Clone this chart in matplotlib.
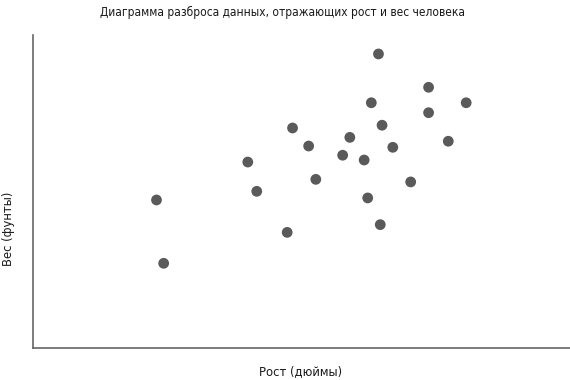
import matplotlib
matplotlib.use("Agg")
import matplotlib.pyplot as plt

heights = [56.9, 57.3, 62.0, 62.5, 64.2, 64.5, 65.4, 65.8, 67.3, 67.7, 68.5,
           68.7, 68.9, 69.3, 69.5, 69.4, 70.1, 71.1, 72.1, 72.1, 73.2, 74.2]
weights = [160.4, 126.0, 181.0, 165.1, 142.8, 199.5, 189.7, 171.6, 184.7, 194.4, 182.1,
           161.5, 213.2, 239.7, 201.0, 147.0, 189.0, 170.2, 221.6, 207.8, 192.3, 213.2]

title = "Диаграмма разброса данных, отражающих рост и вес человека"
xlabel = "Рост (дюймы)"
ylabel = "Вес (фунты)"

font = dict(family="DejaVu Sans", stretch="condensed", color="#1a1a1a")

fig = plt.figure(figsize=(5.7, 3.8), dpi=100)
ax = fig.add_axes([33/570, 32/380, 1 - 33/570, (348-35)/380])
ax.scatter(heights, weights, s=60, color="#5a5a5a", edgecolors="none")
ax.set_xlim(50, 80)
ax.set_ylim(80, 250)
ax.set_xticks([])
ax.set_yticks([])
for s in ["top", "right"]:
    ax.spines[s].set_visible(False)
for s in ["left", "bottom"]:
    ax.spines[s].set_color("#666666")
    ax.spines[s].set_linewidth(1.2)

fig.text(282/570, 1 - 12/380, title, ha="center", va="center", fontsize=8.6, **font)
fig.text(301/570, 1 - 372/380, xlabel, ha="center", va="center", fontsize=9.3, **font)
fig.text(8.5/570, 1 - 229/380, ylabel, ha="center", va="center", rotation=90, fontsize=9.3, **font)

fig.savefig("out.png", dpi=100)
